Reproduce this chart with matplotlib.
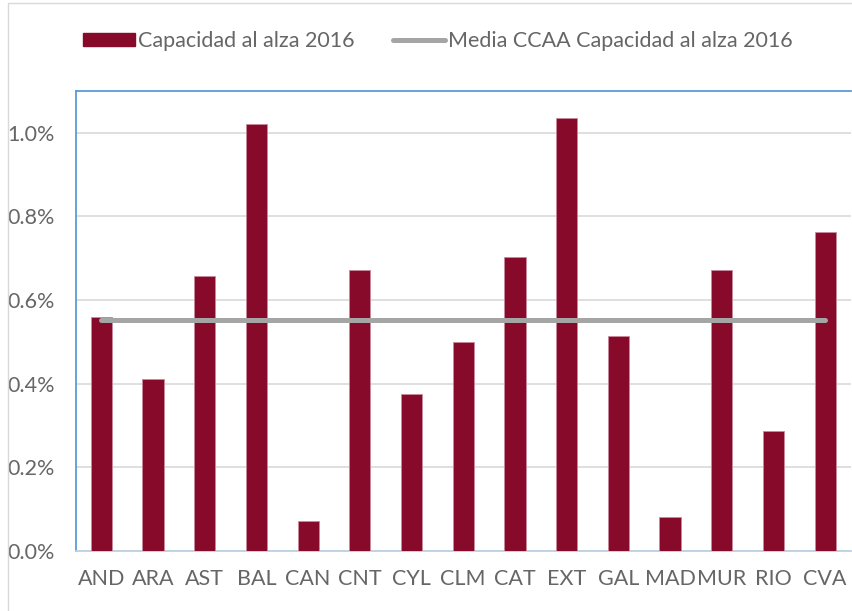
import matplotlib
matplotlib.use("Agg")
import matplotlib.pyplot as plt
from matplotlib.patches import Patch, Rectangle
from matplotlib.lines import Line2D
from matplotlib.ticker import FuncFormatter, MultipleLocator

categories = ["AND", "ARA", "AST", "BAL", "CAN", "CNT", "CYL", "CLM",
              "CAT", "EXT", "GAL", "MAD", "MUR", "RIO", "CVA"]
capacidad = [0.560, 0.411, 0.658, 1.020, 0.072, 0.672, 0.376, 0.500,
             0.703, 1.035, 0.514, 0.081, 0.672, 0.287, 0.762]
media = [0.553] * len(categories)

plt.rcParams['font.family'] = ['Lato', 'DejaVu Sans']
plt.rcParams['font.weight'] = 'normal'

BAR = '#870A2A'
GREY_LINE = '#A5A5A5'
TXT = '#666666'
FS = 15.5

fig = plt.figure(figsize=(8.52, 6.11), dpi=100)
ax = fig.add_axes([75.5/852, 1-551/611, (851-75.5)/852, (551-91)/611])

x = list(range(len(categories)))
ax.bar(x, capacidad, width=0.41, color=BAR, edgecolor='#C98A9A', linewidth=0.6, zorder=3)
ax.plot(x, media, color=GREY_LINE, linewidth=3.6, solid_capstyle='round', zorder=4)

ax.set_xlim(-0.5, len(categories) - 0.5)
ax.set_ylim(0, 1.1)
ax.yaxis.set_major_locator(MultipleLocator(0.2))
ax.yaxis.set_major_formatter(FuncFormatter(lambda v, p: f"{v:.1f}%"))
ax.set_xticks(x)
ax.set_xticklabels(categories)
ax.grid(axis='y', color='#D9D9D9', linewidth=1.2, zorder=0)
ax.tick_params(axis='both', length=0, labelsize=FS, colors=TXT)
ax.tick_params(axis='y', pad=15)
ax.tick_params(axis='x', pad=13)

for s in ['left', 'top']:
    ax.spines[s].set_color('#5B9BD5')
    ax.spines[s].set_linewidth(1.3)
ax.spines['bottom'].set_color('#BDD0E3')
ax.spines['bottom'].set_linewidth(1.3)
ax.spines['right'].set_visible(False)

# outer chart border (light)
fig.patches.append(Rectangle((8/852, -0.1), 2.0, 1.1 - 3/611, transform=fig.transFigure,
                             fill=False, edgecolor='#D9D9D9', linewidth=1.0, zorder=0))

handles = [Patch(facecolor=BAR, edgecolor=BAR),
           Line2D([0], [0], color=GREY_LINE, linewidth=3.6, solid_capstyle='round')]
labels = ["Capacidad al alza 2016", "Media CCAA Capacidad al alza 2016"]
leg = fig.legend(handles, labels, ncol=2, loc='center',
                 bbox_to_anchor=(438/852, 1-41/611), frameon=False,
                 fontsize=FS, handlelength=2.4, handleheight=0.55,
                 handletextpad=0.15, columnspacing=1.8, labelcolor=TXT)

fig.savefig("out.png", dpi=100)
